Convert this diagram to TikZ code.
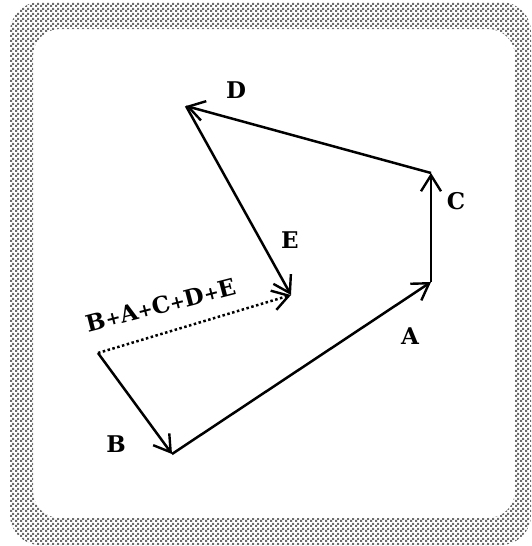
\documentclass[tikz,border=0pt]{standalone}
\usepackage{fontspec}
\setmainfont{DejaVu Serif}
\usetikzlibrary{arrows.meta,patterns}
\pgfdeclarepatternformonly{fineboard}{\pgfpointorigin}{\pgfqpoint{5pt}{5pt}}{\pgfqpoint{5pt}{5pt}}{%
  \pgfpathrectangle{\pgfpointorigin}{\pgfqpoint{2.5pt}{2.5pt}}%
  \pgfpathrectangle{\pgfqpoint{2.5pt}{2.5pt}}{\pgfqpoint{2.5pt}{2.5pt}}%
  \pgfusepath{fill}}
\newcommand{\pl}{\raisebox{0.8pt}{\fontsize{18}{20}\selectfont +}}
\begin{document}
\begin{tikzpicture}[x=1pt,y=-1pt,
  vec/.style={line width=2.5pt,-{Straight Barb[length=16pt,width=20pt,line width=2.4pt]}},
  resvec/.style={line width=2.5pt,dash pattern=on 2.5pt off 2.5pt,-{Straight Barb[length=16pt,width=20pt,line width=2.4pt]}},
  lbl/.style={font=\fontsize{23}{26}\selectfont\bfseries,inner sep=0pt}]
\useasboundingbox (0,0) rectangle (531,546);
\fill[pattern=fineboard,pattern color=gray!85!black,even odd rule]
  [rounded corners=30pt] (10,2) rectangle (531,545)
  [rounded corners=27pt] (33,29) rectangle (515,518);
\coordinate (O) at (98,353);
\coordinate (Bt) at (172,454);
\coordinate (At) at (431,282);
\coordinate (Ct) at (431,173);
\coordinate (Dt) at (186,106);
\coordinate (Et) at (291,295);
\draw[vec] (O) -- (Bt);
\draw[vec] (Bt) -- (At);
\draw[vec] (At) -- (Ct);
\draw[vec] (Ct) -- (Dt);
\draw[vec] (Dt) -- (Et);
\draw[resvec] (O) -- (Et);
\node[lbl] (lB) at (116,444) {B};
\node[lbl] (lA) at (410,336) {A};
\node[lbl] (lC) at (456,201) {C};
\node[lbl] (lD) at (236,90) {D};
\node[lbl] (lE) at (290,240) {E};
\node[lbl,rotate=14.5,xscale=1.0] (lS) at (161,305) {B\pl A\pl C\pl D\pl E};
\end{tikzpicture}
\end{document}
